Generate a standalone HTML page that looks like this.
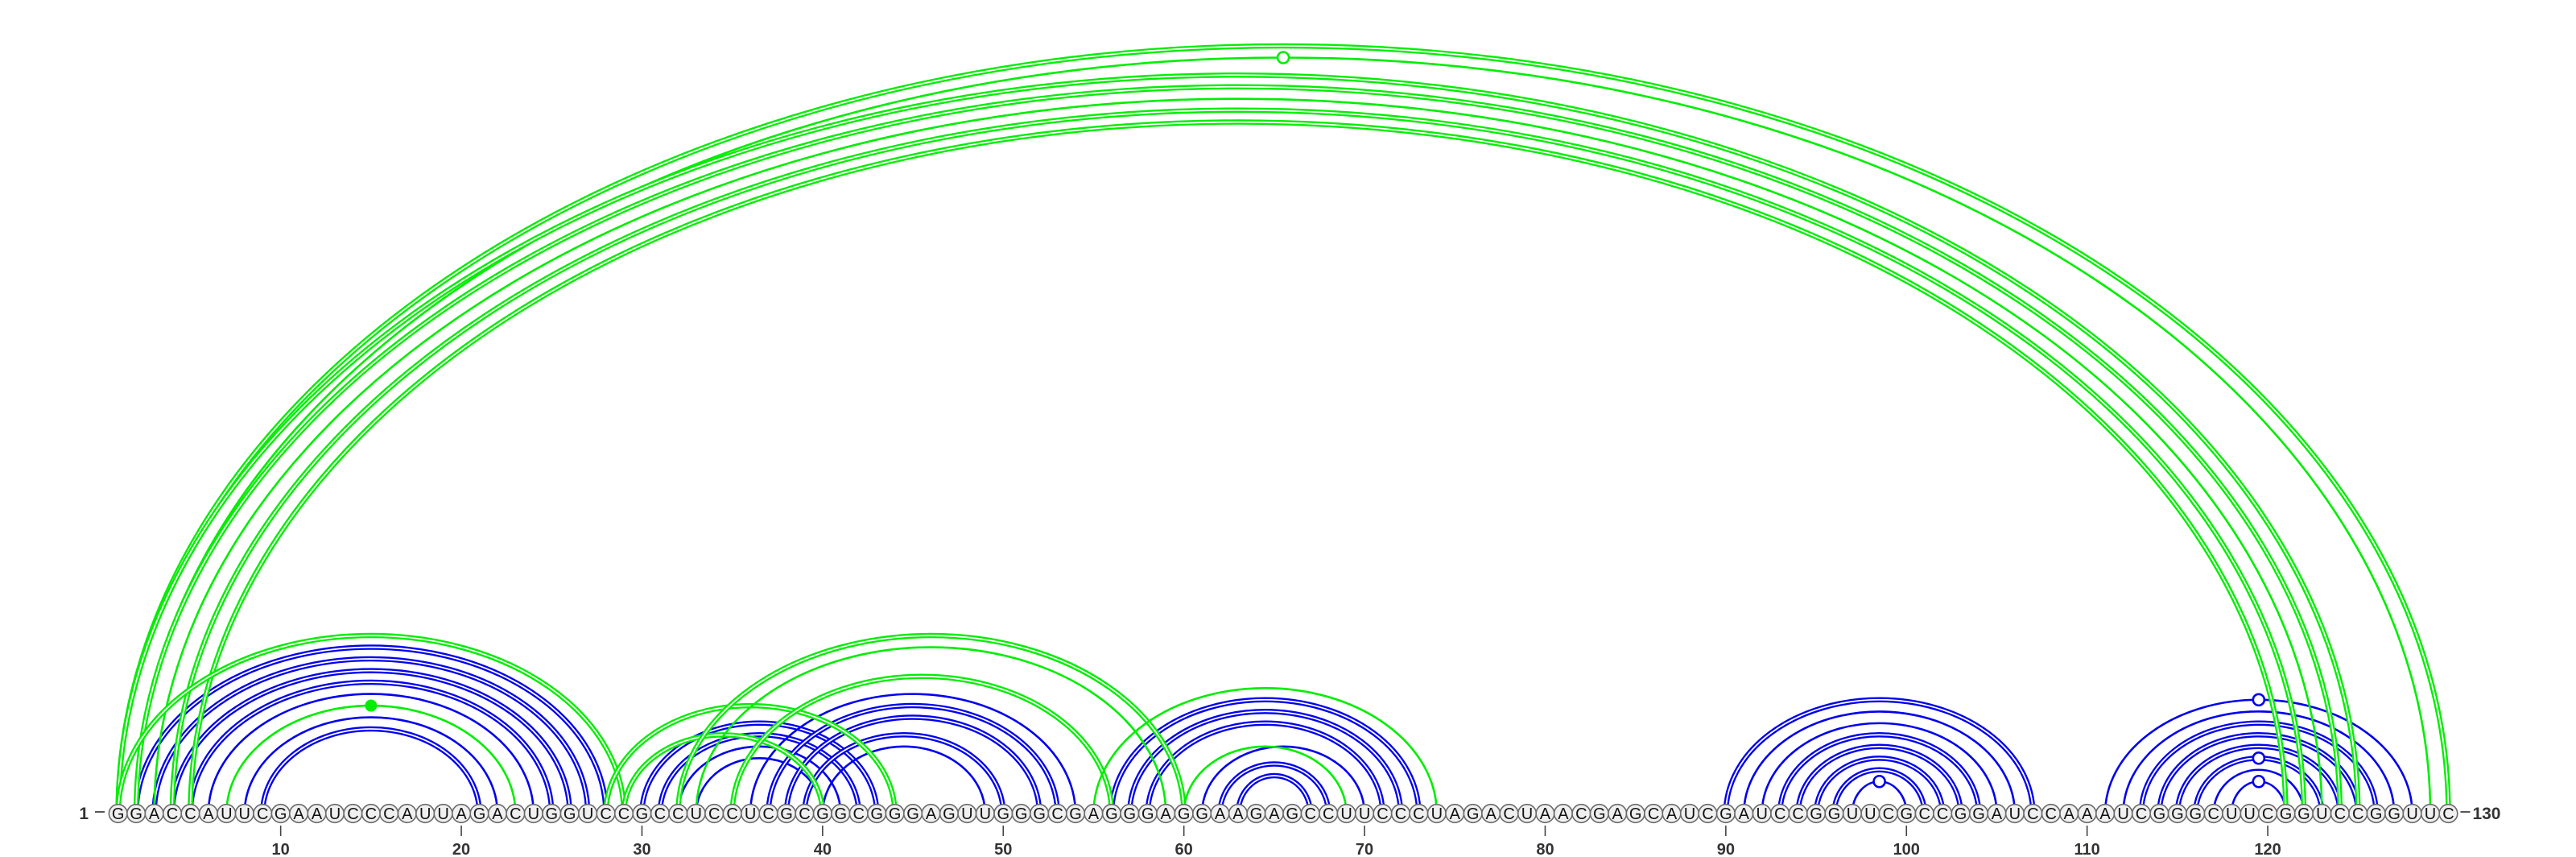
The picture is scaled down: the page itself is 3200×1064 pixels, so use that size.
<!DOCTYPE html>
<html><head><meta charset="utf-8"><style>
html,body{margin:0;padding:0;background:#fff;}
svg{display:block;font-family:"Liberation Sans",sans-serif;}
</style></head><body>
<svg id="chart" width="3200" height="1064" viewBox="0 0 3200 1064" xmlns="http://www.w3.org/2000/svg">
<g id="arcs"></g>
<g id="markers"></g>
<g id="bases"></g>
<g id="axis"></g>
</svg>
<script>
const sequence = "GGACCAUUCGAAUCCCAUUAGACUGGUCCGCCUCCUCGCGGCGGGAGUUGGGCGAGGGAGGAAGAGCCUUCCCUAGACUAACGAGCAUCGAUCCGGUUCGCCGGAUCCAAAUCGGGCUUCGGUCCGGUUC";
// [i, j, lines]
const bluePairs = [
 [2,28,2],[3,27,2],[4,26,2],[5,25,2],[6,24,1],[8,22,1],[9,21,2],
 [30,43,2],[31,42,2],[32,41,1],[33,40,1],
 [36,54,1],[37,53,2],[38,52,2],[39,50,2],[40,49,1],
 [56,73,2],[57,72,2],[58,71,2],[61,70,1],[62,68,2],[63,67,2],
 [90,107,2],[91,106,1],[92,105,1],[93,104,2],[94,103,2],[95,102,2],[96,101,2],[97,100,1],
 [111,128,1],[112,127,1],[113,126,2],[114,125,2],[115,124,2],[116,123,2],[117,122,1],[118,121,1]
];
const greenPairs = [
 [1,130,2],[2,129,1],[1,125,2],[2,124,2],[3,123,1],[4,122,2],[5,121,2],
 [1,29,2],[7,23,1],[28,44,2],[29,40,2],
 [32,60,2],[33,59,1],[35,56,2],[55,74,1],[60,69,1]
];
const openMarkers = [[97,100,"b"],[118,121,"b"],[116,123,"b"],[111,128,"b"],[2,129,"g"]];
const filledMarkers = [[7,23,"g"]];
const tickValues = [10,20,30,40,50,60,70,80,90,100,110,120];

const NS="http://www.w3.org/2000/svg";
const X0=146.7, DX=22.44, BY=1010;
const xPos=i=>X0+(i-1)*DX;
const arcH=(i,j)=>18+0.646*Math.abs(xPos(j)-xPos(i))/2;
const COL={b:"#0000ee",g:"#00ee00"};
function mk(tag,attrs,parent){const e=document.createElementNS(NS,tag);for(const k in attrs)e.setAttribute(k,attrs[k]);parent.appendChild(e);return e;}
const arcs=document.getElementById('arcs');
function drawArc(p,color,name){
  const [i,j,n]=p;const x1=xPos(i),x2=xPos(j),rx=(x2-x1)/2,ry=arcH(i,j);
  const d=`M${x1},${BY} A${rx},${ry} 0 0 1 ${x2},${BY}`;
  const a=mk('path',{d:d,fill:'none',stroke:color,'stroke-width':n>1?6.5:2.6},arcs);
  
  
  if(n>1){const w=mk('path',{d:d,fill:'none',stroke:'#fff','stroke-width':1.8},arcs);
    
    }
}
bluePairs.forEach(p=>drawArc(p,COL.b,'blue-arc-'+p[0]+'-'+p[1]));
greenPairs.forEach(p=>drawArc(p,COL.g,'green-arc-'+p[0]+'-'+p[1]));
const mg=document.getElementById('markers');
openMarkers.forEach(m=>{const cx=(xPos(m[0])+xPos(m[1]))/2,cy=BY-arcH(m[0],m[1]);
  const c=mk('circle',{cx:cx,cy:cy,r:7,fill:'#fff',stroke:COL[m[2]],'stroke-width':2.6},mg);
  
  });
filledMarkers.forEach(m=>{const cx=(xPos(m[0])+xPos(m[1]))/2,cy=BY-arcH(m[0],m[1]);
  const c=mk('circle',{cx:cx,cy:cy,r:7,fill:COL[m[2]],stroke:COL[m[2]],'stroke-width':1},mg);
  
  });
const bg=document.getElementById('bases');
for(let i=1;i<=sequence.length;i++){
  const g=mk('g',{},bg);
  
  
  mk('circle',{cx:xPos(i),cy:BY,r:11.3,fill:'#f0f0f0',stroke:'#6a6a6a','stroke-width':1.6},g);
  const t=mk('text',{x:xPos(i),y:BY+7,'text-anchor':'middle','font-size':20,fill:'#111'},g);
  t.textContent=sequence[i-1];
}
const ax=document.getElementById('axis');
tickValues.forEach(v=>{
  const l=mk('line',{x1:xPos(v),x2:xPos(v),y1:1025,y2:1038,stroke:'#444','stroke-width':1.6},ax);
  
  
  const t=mk('text',{x:xPos(v),y:1061,'text-anchor':'middle','font-size':20,'font-weight':'bold',fill:'#333'},ax);
  
  
  t.textContent=v;
});
const s=mk('text',{x:110,y:BY+7,'text-anchor':'end','font-size':21,'font-weight':'bold',fill:'#333'},ax);


s.textContent="1";
const sl=mk('line',{x1:118,x2:130,y1:BY-2,y2:BY-2,stroke:'#444','stroke-width':1.8},ax);


const el=mk('line',{x1:xPos(130)+15,x2:xPos(130)+27,y1:BY-2,y2:BY-2,stroke:'#444','stroke-width':1.8},ax);


const e=mk('text',{x:xPos(130)+30,y:BY+7,'text-anchor':'start','font-size':21,'font-weight':'bold',fill:'#333'},ax);


e.textContent="130";
</script>
</body></html>
